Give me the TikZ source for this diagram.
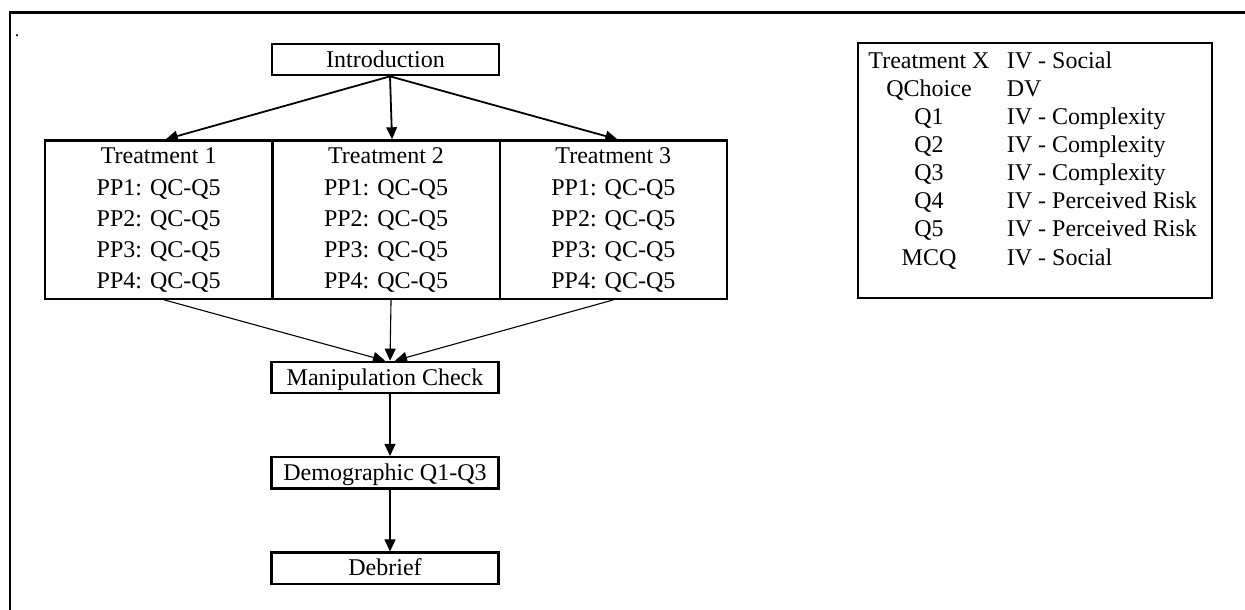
\documentclass[tikz,border=0pt]{standalone}
\usepackage{fontspec}
\setmainfont{Liberation Serif}
\usetikzlibrary{arrows.meta}
\begin{document}
\begin{tikzpicture}[x=1pt,y=-1pt,
  txt/.style={font=\fontsize{24}{31.25}\selectfont, inner sep=0},
  stage/.style={txt, draw, line width=2.2pt, minimum width=227pt, minimum height=31.5pt,
    text height=16.5pt, text depth=1.5pt},
  column/.style={draw, line width=2.2pt, inner sep=0, minimum width=227.3pt,
    minimum height=158.4pt, anchor=north west},
  bigarrow/.style={line width=1.8pt, -{Triangle[length=12pt,width=10.5pt]}},
  smallarrow/.style={line width=1.1pt, -{Triangle[length=12pt,width=11pt]}},
]
\useasboundingbox (0,0) rectangle (1245,610);

% page frame (left and top edges)
\draw[line width=2.2pt] (10,612) -- (10,12.5) -- (1247,12.5);
\node[font=\fontsize{18}{18}\selectfont, inner sep=0, anchor=base] (dot) at (17,37) {.};

% flow stages
\node[stage] (intro) at (385.5,59.5) {Introduction};
\node[stage] (mc)    at (385,377.5) {Manipulation Check};
\node[stage] (demo)  at (385,472.8) {Demographic Q1-Q3};
\node[stage] (deb)   at (385,568.3) {Debrief};

% treatment columns
\node[column] (col1) at (44,139.3) {};
\node[column] (col2) at (271.3,139.3) {};
\node[column] (col3) at (498.6,139.3) {};
\foreach \c in {1,2,3}{
  \node[txt, align=center, anchor=north] (t\c) at ([yshift=-8.5pt]col\c.north)
    {Treatment \c\\PP1: QC-Q5\\PP2: QC-Q5\\PP3: QC-Q5\\PP4: QC-Q5};
}

% connectors
\coordinate (src) at ([xshift=4.5pt]intro.south);
\draw[bigarrow] (src) -- ([xshift=7pt]col1.north);
\draw[bigarrow] (src) -- ([xshift=6pt]col2.north);
\draw[bigarrow] (src) -- ([xshift=4pt]col3.north);
\draw[smallarrow] ([xshift=5.5pt]col1.south) -- ([xshift=0pt]mc.north);
\draw[smallarrow] ([xshift=5pt]col2.south) -- ([xshift=5pt]mc.north);
\draw[smallarrow] ([xshift=0pt]col3.south) -- ([xshift=10pt]mc.north);
\draw[smallarrow] ([xshift=5pt]mc.south) -- ([xshift=5pt]demo.north);
\draw[smallarrow] ([xshift=5pt]demo.south) -- ([xshift=5pt]deb.north);

% variable legend
\node[draw, line width=2pt, minimum width=354pt, minimum height=254.4pt, inner sep=0]
  (legend) at (1035.3,170.5) {};
\foreach \k/\v [count=\i from 0] in {Treatment X/IV - Social, QChoice/DV,
    Q1/IV - Complexity, Q2/IV - Complexity, Q3/IV - Complexity,
    Q4/IV - Perceived Risk, Q5/IV - Perceived Risk, MCQ/IV - Social}{
  \node[txt, anchor=base] (lk\i) at (929,{68.3+28.1*\i}) {\k};
  \node[txt, anchor=base west] (lv\i) at (1006.7,{68.3+28.1*\i}) {\v};
}
\end{tikzpicture}
\end{document}
